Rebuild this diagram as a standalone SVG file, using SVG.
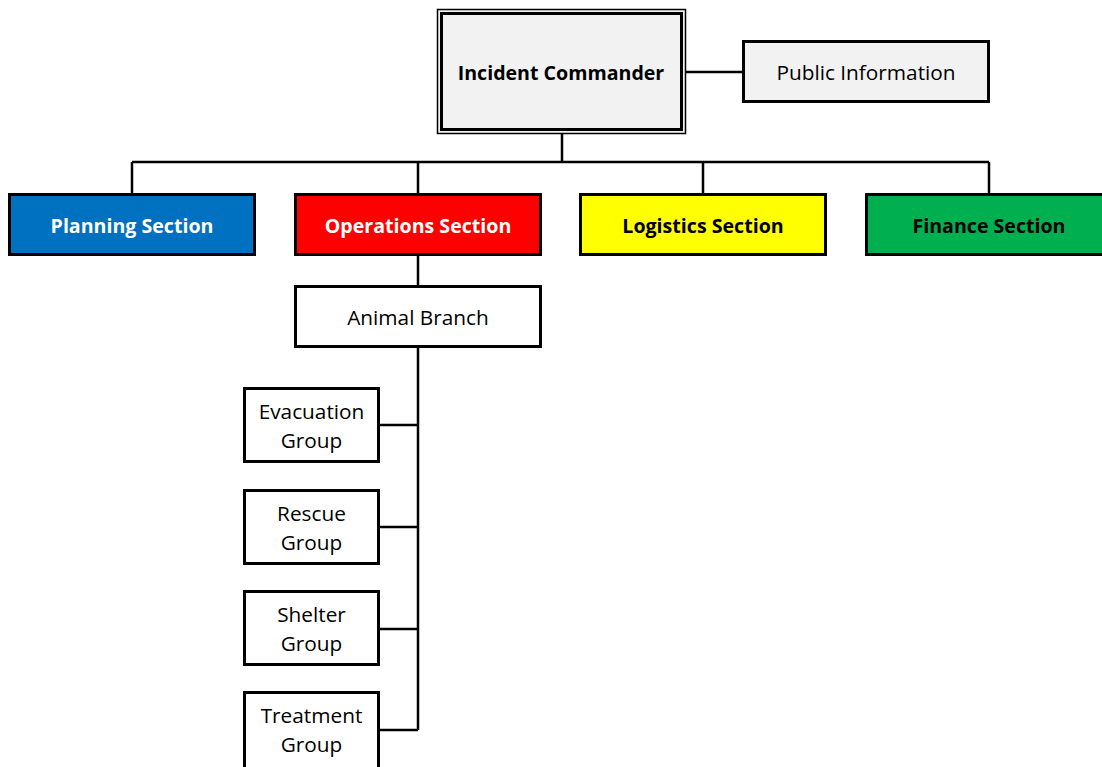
<svg xmlns="http://www.w3.org/2000/svg" width="1102" height="767" viewBox="0 0 1102 767">
<style>
.box{stroke:#000;stroke-width:3}
.w{fill:#fff}
.g{fill:#f2f2f2}
.t{font-family:"Open Sans","Noto Sans",sans-serif;font-size:20.8px;fill:#000;text-anchor:middle;dominant-baseline:central}
.b{font-weight:bold;font-size:19.6px}
.wt{fill:#fff}
.conn{stroke:#000;stroke-width:2.5;fill:none}
</style>
<rect width="1102" height="767" fill="#fff"/>
<g id="connectors">
<path class="conn" d="M686 72H743M562 134V162M132 162H989M132 162V194M418 162V194M703 162V194M989 162V194M418 255V286M418 347V730M379 425H418M379 527H418M379 629H418M379 730H418"/>
</g>
<g id="incident-commander">
<rect x="437.5" y="9.5" width="248" height="124" fill="#f2f2f2" stroke="#000" stroke-width="1.5"/>
<rect x="441.5" y="13.5" width="240" height="116" fill="none" stroke="#000" stroke-width="3"/>
<text class="t b" x="561" y="72">Incident Commander</text>
</g>
<g id="public-information">
<rect class="box g" x="743.5" y="41.5" width="245" height="60"/>
<text class="t" x="866" y="72">Public Information</text>
</g>
<g id="planning">
<rect class="box" fill="#0070c0" x="9.5" y="194.5" width="245" height="60"/>
<text class="t b wt" x="132" y="225">Planning Section</text>
</g>
<g id="operations">
<rect class="box" fill="#ff0000" x="295.5" y="194.5" width="245" height="60"/>
<text class="t b wt" x="418" y="225">Operations Section</text>
</g>
<g id="logistics">
<rect class="box" fill="#ffff00" x="580.5" y="194.5" width="245" height="60"/>
<text class="t b" x="703" y="225">Logistics Section</text>
</g>
<g id="finance">
<rect class="box" fill="#00b050" x="866.5" y="194.5" width="245" height="60"/>
<text class="t b" x="989" y="225">Finance Section</text>
</g>
<g id="animal-branch">
<rect class="box w" x="295.5" y="286.5" width="245" height="60"/>
<text class="t" x="418" y="317">Animal Branch</text>
</g>
<g id="evacuation">
<rect class="box w" x="244.5" y="388.5" width="134" height="73"/>
<text class="t" x="311.5" y="411">Evacuation</text>
<text class="t" x="311.5" y="440">Group</text>
</g>
<g id="rescue">
<rect class="box w" x="244.5" y="490.5" width="134" height="73"/>
<text class="t" x="311.5" y="513">Rescue</text>
<text class="t" x="311.5" y="542">Group</text>
</g>
<g id="shelter">
<rect class="box w" x="244.5" y="591.5" width="134" height="73"/>
<text class="t" x="311.5" y="614">Shelter</text>
<text class="t" x="311.5" y="643">Group</text>
</g>
<g id="treatment">
<rect class="box w" x="244.5" y="692.5" width="134" height="78"/>
<text class="t" x="311.5" y="715">Treatment</text>
<text class="t" x="311.5" y="744">Group</text>
</g>
</svg>
